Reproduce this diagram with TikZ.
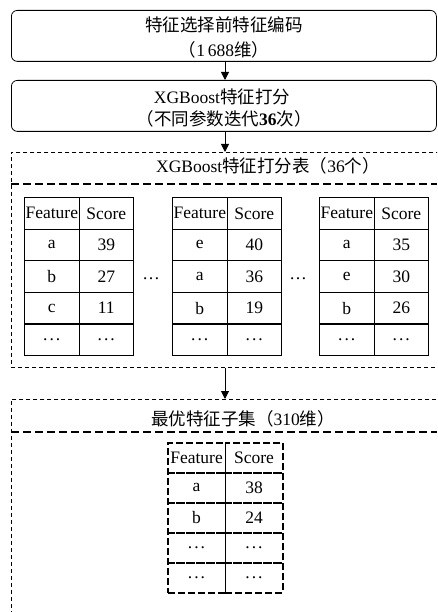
\documentclass[tikz,border=0pt]{standalone}
\usepackage{fontspec}
\setmainfont{Liberation Serif}
\newfontfamily\cjk{Noto Sans CJK SC}
\usetikzlibrary{arrows.meta}
\newcommand{\celldots}{.\kern2pt.\kern2pt.}
\begin{document}
\begin{tikzpicture}[x=1pt,y=-1pt,
  txt/.style={font=\fontsize{17.5}{22}\selectfont, inner sep=0pt, align=center},
  rbox/.style={draw, line width=0.8pt, rounded corners=6pt, anchor=north west, minimum width=425pt, minimum height=51pt, inner sep=0pt},
  obox/.style={draw, line width=0.8pt, dash pattern=on 4pt off 3pt, anchor=north west, inner sep=0pt},
  sepline/.style={line width=1.8pt, dash pattern=on 8pt off 4pt},
  cell/.style={draw, line width=1.1pt, minimum width=54.5pt, minimum height=31.6pt, inner sep=0pt, anchor=north west, font=\fontsize{17.5}{20}\selectfont},
  dcell/.style={draw, line width=1.6pt, dash pattern=on 7pt off 3pt, minimum width=57.5pt, minimum height=30pt, inner sep=0pt, anchor=north west, font=\fontsize{17.5}{20}\selectfont},
  arr/.style={line width=1pt, -{Triangle[length=8pt,width=8pt]}}]
\clip (0,0) rectangle (437,612);
\fill[white] (0,0) rectangle (437,612);
\coordinate (ax) at (225,0);

% top box
\node[rbox] (b1) at (11,10) {};
\node[txt] (t1a) at (224,25) {{\cjk 特征选择前特征编码}};
\node[txt] (t1b) at (224,50) {{\cjk （}1\,688{\cjk 维）}};

% second box
\node[rbox] (b2) at (11,80) {};
\node[txt] (t2a) at (222,97) {XGBoost{\cjk 特征打分}};
\node[txt] (t2b) at (224,119) {{\cjk （不同参数迭代}\textbf{36}{\cjk 次）}};

% group 1
\node[obox, minimum width=520pt, minimum height=215pt] (g1) at (11,152) {};
\draw[sepline] (11,184) -- (437,184);
\node[txt] (t3) at (268,166) {XGBoost{\cjk 特征打分表（}36{\cjk 个）}};

\foreach \tx/\n/\rA/\sA/\rB/\sB/\rC/\sC in {24/A/a/39/b/27/c/11, 172/B/e/40/a/36/b/19, 319/C/a/35/e/30/b/26} {
  \node[cell] (\n h1) at (\tx,197) {Feature};
  \node[cell] (\n h2) at (\tx+54.5,197) {Score};
  \node[cell] (\n r1a) at (\tx,228.6) {\rA};
  \node[cell] (\n r1b) at (\tx+54.5,228.6) {\sA};
  \node[cell] (\n r2a) at (\tx,260.2) {\rB};
  \node[cell] (\n r2b) at (\tx+54.5,260.2) {\sB};
  \node[cell] (\n r3a) at (\tx,291.8) {\rC};
  \node[cell] (\n r3b) at (\tx+54.5,291.8) {\sC};
  \node[cell] (\n r4a) at (\tx,323.4) {\celldots};
  \node[cell] (\n r4b) at (\tx+54.5,323.4) {\celldots};
}
\node[txt] (d1) at (151,279) {\ldots};
\node[txt] (d2) at (298,279) {\ldots};

% group 2
\node[obox, minimum width=520pt, minimum height=260pt] (g2) at (11,399) {};
\draw[sepline] (11,432) -- (437,432);
\node[txt] (t4) at (243,419) {{\cjk 最优特征子集（}310{\cjk 维）}};

\node[dcell] (fh1) at (167,442) {Feature};
\node[dcell] (fh2) at (224.5,442) {Score};
\node[dcell] (fr1a) at (167,472) {a};
\node[dcell] (fr1b) at (224.5,472) {38};
\node[dcell] (fr2a) at (167,502) {b};
\node[dcell] (fr2b) at (224.5,502) {24};
\node[dcell] (fr3a) at (167,532) {\celldots};
\node[dcell] (fr3b) at (224.5,532) {\celldots};
\node[dcell] (fr4a) at (167,562) {\celldots};
\node[dcell] (fr4b) at (224.5,562) {\celldots};

% arrows
\draw[arr] (b1.south -| ax) -- (b2.north -| ax);
\draw[arr] (b2.south -| ax) -- (g1.north -| ax);
\draw[arr] (g1.south -| ax) -- (g2.north -| ax);
\end{tikzpicture}
\end{document}
